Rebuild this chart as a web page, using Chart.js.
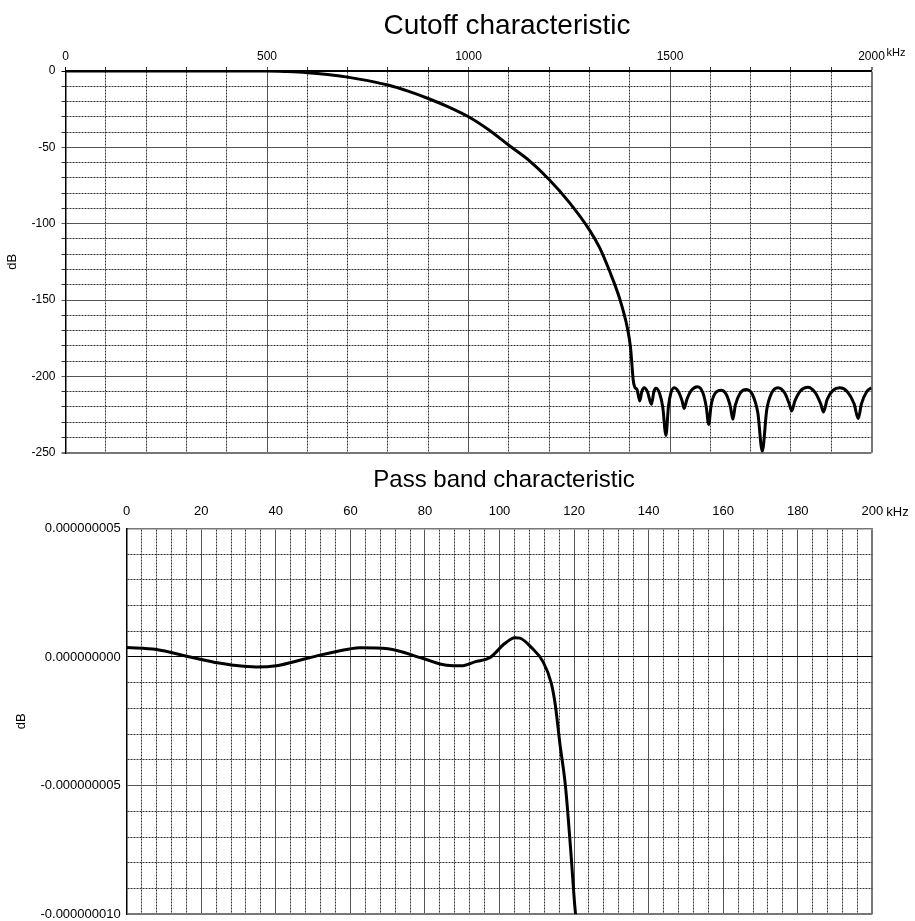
<!DOCTYPE html>
<html>
<head>
<meta charset="utf-8">
<title>Cutoff / Pass band characteristic</title>
<script src="https://cdn.jsdelivr.net/npm/chart.js@4/dist/chart.umd.min.js"></script>
<style>
    body { margin: 0; background: #fff; overflow: hidden; }
    .panel { position: absolute; left: 0; }
    #cutoff-wrap { top: 0; }
    #pass-wrap { top: 460px; }
</style>
</head>
<body>
<div class="panel" id="cutoff-wrap"><canvas id="cutoff-chart" width="915" height="466"></canvas></div>
<div class="panel" id="pass-wrap"><canvas id="pass-chart" width="915" height="468"></canvas></div>
<script>
// Cutoff characteristic (kHz / dB)
const cutoffFreq = [
    0, 100, 200, 300, 400, 500, 550, 600, 650, 700, 750, 800, 850, 900, 950,
    1000, 1050, 1100, 1150, 1200, 1250, 1300, 1325, 1350, 1375, 1394, 1402, 1409,
    1413, 1418, 1425, 1430, 1436, 1444, 1454, 1460, 1465, 1474, 1482, 1490, 1496, 1502,
    1510, 1520, 1530, 1535, 1542, 1552, 1568, 1582, 1590, 1596, 1602, 1612, 1627,
    1640, 1650, 1656, 1662, 1674, 1689, 1705, 1718, 1729, 1740, 1752, 1768,
    1785, 1796, 1802, 1810, 1825, 1842, 1860, 1874, 1881, 1890, 1905, 1921,
    1940, 1957, 1967, 1975, 1988, 2000
];
const cutoffDb = [
    0, 0, 0, 0, 0, 0, -0.4, -1.1, -2.3, -4, -6.3, -9.2, -13.2, -18, -23.5,
    -30, -38.5, -48.6, -58.5, -71, -86, -104, -115.5, -131, -149, -168, -181, -203,
    -207.3, -208.5, -216, -210, -207.4, -210, -218.2, -210, -207.8, -211, -220, -238.6, -220, -211,
    -207.4, -209.5, -216, -221, -215, -209.5, -206.8, -211, -220, -231.4, -219, -211, -209,
    -212, -220, -228.1, -219, -211, -208.6, -212, -224, -249, -222, -211, -207.4,
    -211, -218, -222.6, -216, -209, -207, -210.5, -218, -223.3, -215, -209, -207.4,
    -210, -218, -227.6, -218, -210, -207.4
];

// Pass band characteristic (kHz / dB)
const passFreq = [
    0, 8, 16, 20, 24.3, 28.5, 34.8, 40.2, 46.4, 51.8, 59.8, 62.5, 70.1, 79.5, 85.8,
    90.2, 93.4, 97.4, 101.4, 104.1, 105.5, 108.6, 111.7, 113.9, 115, 116.2, 117.7, 119.1, 120.4, 121
];
const passDb = [
    0.37e-9, 0.29e-9, 0.03e-9, -0.1e-9, -0.23e-9, -0.32e-9, -0.39e-9, -0.34e-9, -0.13e-9, 0.07e-9,
    0.31e-9, 0.36e-9, 0.32e-9, -0.06e-9, -0.32e-9,
    -0.34e-9, -0.19e-9, -0.03e-9, 0.52e-9, 0.75e-9, 0.73e-9, 0.36e-9, -0.19e-9, -1.03e-9, -1.9e-9,
    -3.37e-9, -5.03e-9, -7.51e-9, -10.0e-9, -10.5e-9
];

// Labelled (major) grid positions
const cutoffFreqTicks = [0, 500, 1000, 1500, 2000];
const cutoffDbTicks = [0, -50, -100, -150, -200, -250];
const passFreqTicks = [0, 20, 40, 60, 80, 100, 120, 140, 160, 180, 200];
const passDbTicks = [5e-9, 0, -5e-9, -10e-9];

Chart.defaults.font.family = "'Liberation Sans', Arial, Helvetica, sans-serif";
Chart.defaults.color = '#000';

const MINOR_COLOR = '#333';
const MAJOR_COLOR = '#555';

function isMajor(list, v, eps) {
    return list.some(t => Math.abs(t - v) < eps);
}

// Draws the panel title and the "kHz" unit next to the last frequency label
const panelText = {
    id: 'panelText',
    afterDraw(chart, args, opts) {
        const ctx = chart.ctx;
        const area = chart.chartArea;
        ctx.save();
        ctx.fillStyle = '#000';
        ctx.textAlign = 'center';
        ctx.textBaseline = 'alphabetic';
        ctx.font = opts.titleFont;
        ctx.fillText(opts.title, opts.titleX, opts.titleY);
        ctx.textAlign = 'left';
        ctx.font = opts.unitFont;
        ctx.fillText('kHz', area.right + opts.unitDx, opts.unitY);
        ctx.restore();
    }
};

function toPoints(xs, ys) {
    return xs.map((x, i) => ({ x: x, y: ys[i] }));
}

// Top chart
new Chart(document.getElementById('cutoff-chart'), {
    type: 'line',
    data: {
        datasets: [{
            data: toPoints(cutoffFreq, cutoffDb),
            borderColor: '#000',
            borderWidth: 3,
            pointRadius: 0,
            fill: false,
            cubicInterpolationMode: 'monotone'
        }]
    },
    options: {
        responsive: false,
        animation: false,
        layout: { padding: { left: 0, right: 43.5, top: 0, bottom: 0 } },
        plugins: {
            legend: { display: false },
            tooltip: { enabled: false },
            panelText: {
                title: 'Cutoff characteristic',
                titleFont: "28px 'Liberation Sans', Arial, sans-serif",
                titleX: 507,
                titleY: 34,
                unitFont: "11px 'Liberation Sans', Arial, sans-serif",
                unitDx: 15,
                unitY: 55.5
            }
        },
        scales: {
            x: {
                type: 'linear',
                position: 'top',
                min: 0,
                max: 2000,
                afterFit: (scale) => { scale.height = 71; },
                ticks: {
                    stepSize: 100,
                    autoSkip: false,
                    maxRotation: 0,
                    padding: 3,
                    font: { size: 12 },
                    callback: (v) => isMajor(cutoffFreqTicks, v, 0.01) ? String(v) : ''
                },
                grid: {
                    tickLength: 4,
                    color: (c) => {
                        if (!c.tick) return '#000';
                        if (c.tick.value === 0) return '#000';
                        if (c.tick.value === 2000) return '#777';
                        return isMajor(cutoffFreqTicks, c.tick.value, 0.01) ? MAJOR_COLOR : MINOR_COLOR;
                    },
                    lineWidth: (c) => (c.tick && c.tick.value === 2000) ? 2 : 1
                },
                border: {
                    color: '#000',
                    width: 1.5,
                    dash: (c) => (c.tick && !isMajor(cutoffFreqTicks, c.tick.value, 0.01)) ? [2, 1] : []
                }
            },
            y: {
                type: 'linear',
                min: -250,
                max: 0,
                afterFit: (scale) => { scale.width = 65.5; },
                title: {
                    display: true,
                    text: 'dB',
                    font: { size: 13 },
                    padding: { top: 5, bottom: 0 }
                },
                ticks: {
                    stepSize: 10,
                    autoSkip: false,
                    padding: 6,
                    font: { size: 12 },
                    callback: (v) => isMajor(cutoffDbTicks, v, 0.01) ? String(v) : ''
                },
                grid: {
                    tickLength: 4,
                    color: (c) => {
                        if (!c.tick) return '#000';
                        if (c.tick.value === 0) return '#000';
                        if (c.tick.value === -250) return '#777';
                        return isMajor(cutoffDbTicks, c.tick.value, 0.01) ? MAJOR_COLOR : MINOR_COLOR;
                    },
                    lineWidth: (c) => (c.tick && c.tick.value === -250) ? 2 : 1
                },
                border: {
                    color: '#000',
                    width: 1.5,
                    dash: (c) => (c.tick && !isMajor(cutoffDbTicks, c.tick.value, 0.01)) ? [2, 1] : []
                }
            }
        }
    },
    plugins: [panelText]
});

// Bottom chart
new Chart(document.getElementById('pass-chart'), {
    type: 'line',
    data: {
        datasets: [{
            data: toPoints(passFreq, passDb),
            borderColor: '#000',
            borderWidth: 3,
            pointRadius: 0,
            fill: false,
            cubicInterpolationMode: 'monotone'
        }]
    },
    options: {
        responsive: false,
        animation: false,
        layout: { padding: { left: 0, right: 42.7, top: 0, bottom: 0 } },
        plugins: {
            legend: { display: false },
            tooltip: { enabled: false },
            panelText: {
                title: 'Pass band characteristic',
                titleFont: "24px 'Liberation Sans', Arial, sans-serif",
                titleX: 504,
                titleY: 26.5,
                unitFont: "13px 'Liberation Sans', Arial, sans-serif",
                unitDx: 14,
                unitY: 55.5
            }
        },
        scales: {
            x: {
                type: 'linear',
                position: 'top',
                min: 0,
                max: 200,
                afterFit: (scale) => { scale.height = 68.3; },
                ticks: {
                    stepSize: 4,
                    autoSkip: false,
                    maxRotation: 0,
                    padding: 9,
                    font: { size: 13 },
                    callback: (v) => isMajor(passFreqTicks, v, 0.001) ? String(v) : ''
                },
                grid: {
                    drawTicks: false,
                    color: (c) => {
                        if (!c.tick) return '#000';
                        if (c.tick.value === 0) return '#000';
                        if (c.tick.value === 200) return '#777';
                        return isMajor(passFreqTicks, c.tick.value, 0.001) ? MAJOR_COLOR : MINOR_COLOR;
                    },
                    lineWidth: (c) => (c.tick && c.tick.value === 200) ? 2 : 1
                },
                border: {
                    color: '#777',
                    width: 1.5,
                    dash: (c) => (c.tick && !isMajor(passFreqTicks, c.tick.value, 0.001)) ? [2, 1] : []
                }
            },
            y: {
                type: 'linear',
                min: -10e-9,
                max: 5e-9,
                afterFit: (scale) => { scale.width = 126.7; },
                title: {
                    display: true,
                    text: 'dB',
                    font: { size: 13 },
                    padding: { top: 14, bottom: 0 }
                },
                ticks: {
                    stepSize: 1e-9,
                    autoSkip: false,
                    padding: 6,
                    font: { size: 13 },
                    callback: (v) => isMajor(passDbTicks, v, 1e-11) ? (Math.round(v / 1e-9) * 1e-9).toFixed(9) : ''
                },
                grid: {
                    drawTicks: false,
                    color: (c) => {
                        if (!c.tick) return '#000';
                        if (Math.abs(c.tick.value) < 1e-11) return '#000';
                        if (Math.abs(c.tick.value + 10e-9) < 1e-11) return '#777';
                        return isMajor(passDbTicks, c.tick.value, 1e-11) ? MAJOR_COLOR : MINOR_COLOR;
                    },
                    lineWidth: (c) => (c.tick && Math.abs(c.tick.value + 10e-9) < 1e-11) ? 2 : 1
                },
                border: {
                    color: '#000',
                    width: 1.5,
                    dash: (c) => (c.tick && !isMajor(passDbTicks, c.tick.value, 1e-11)) ? [2, 1] : []
                }
            }
        }
    },
    plugins: [panelText]
});
</script>
</body>
</html>
